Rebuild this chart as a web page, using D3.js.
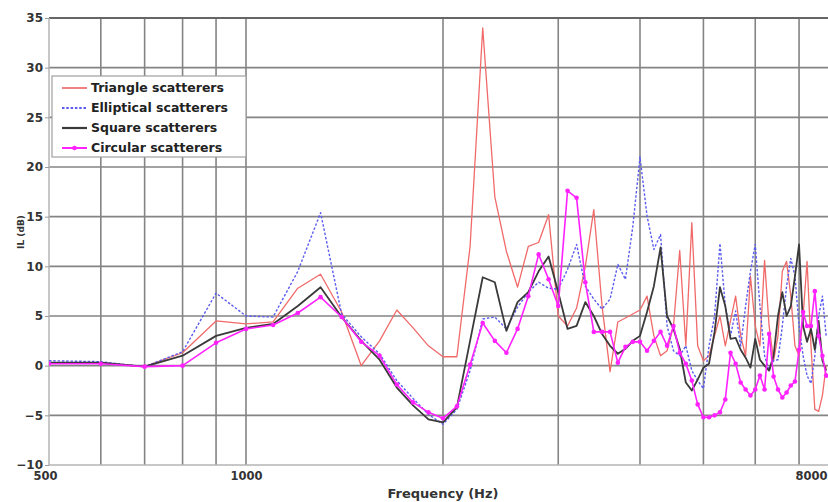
<!DOCTYPE html>
<html>
<head>
<meta charset="utf-8">
<script src="https://cdn.jsdelivr.net/npm/d3@7"></script>
<style>
  body { margin: 0; background: #fff; }
  svg { display: block; }
  text { font-family: "DejaVu Sans", Verdana, sans-serif; font-weight: bold; }
</style>
</head>
<body>
<svg id="chart" width="828" height="502"></svg>
<script>
// Frequency samples (Hz)
const freq = [500,600,700,800,900,1000,1100,1200,1300,1400,1500,1600,1700,1800,1900,2000,
  2100,2200,2300,2400,2500,2600,2700,2800,2900,3000,3100,3200,3300,3400,3500,3600,3700,3800,3900,4000,
  4100,4200,4300,4400,4500,4600,4700,4800,4900,5000,5100,5200,5300,5400,5500,5600,5700,5800,5900,6000,
  6100,6200,6300,6400,6500,6600,6700,6800,6900,7000,7100,7200,7300,7400,7500,7600,7700];

// Insertion loss (dB) for each scatterer shape
const triangle = [0.3,0.3,-0.1,1.3,4.5,4.2,4.4,7.8,9.2,5.4,0.0,2.5,5.6,3.8,2.0,0.9,
  0.9,12.0,34.0,17.0,11.5,7.9,12.0,12.4,15.2,5.0,4.0,5.8,10.0,15.7,6.0,-0.6,4.4,4.8,5.2,5.6,
  7.0,3.0,1.0,1.5,4.0,11.6,2.0,14.4,2.0,0.5,1.0,3.0,5.0,2.0,4.5,7.0,3.0,1.0,9.0,4.0,
  2.0,10.6,4.0,0.5,3.0,9.5,10.5,7.0,2.0,1.0,5.0,10.5,2.0,-4.4,-4.6,-3.0,0.0];

const elliptical = [0.5,0.4,-0.1,1.4,7.3,5.0,4.9,9.5,15.4,5.2,2.9,1.2,-1.5,-3.3,-4.9,-5.9,
  -4.4,-0.5,4.7,4.9,3.7,5.9,7.4,8.4,7.8,7.7,9.7,12.2,8.0,6.7,5.7,6.7,10.2,8.7,14.0,21.0,
  15.1,11.7,13.2,4.0,1.5,1.0,2.0,-0.5,-1.5,-2.3,2.0,5.0,12.3,6.0,3.0,5.5,2.0,6.0,9.5,12.2,
  6.0,1.0,-0.5,0.5,0.6,4.0,8.0,10.8,9.0,4.0,1.0,-1.0,-1.8,1.0,5.0,7.0,3.0];

const square = [0.3,0.3,-0.1,1.0,3.0,3.8,4.2,6.0,7.9,4.9,2.5,0.6,-2.2,-4.0,-5.4,-5.7,
  -4.2,2.5,8.9,8.4,3.5,6.4,7.4,9.5,11.0,7.4,3.7,4.0,6.4,5.0,3.2,2.0,1.2,1.7,2.5,3.0,
  5.4,8.0,11.9,5.0,3.7,1.7,-1.7,-2.5,-1.4,-0.2,0.2,3.4,7.9,6.0,2.7,2.8,1.6,0.8,-0.2,2.7,
  0.6,0.0,-0.5,1.0,5.0,7.4,5.0,6.0,9.0,12.2,4.0,2.4,3.7,1.6,4.5,0.5,-0.5];

const circular = [0.2,0.2,-0.1,0.0,2.3,3.7,4.1,5.3,6.9,4.9,2.4,1.0,-1.9,-3.7,-4.7,-5.3,
  -4.1,0.1,4.3,2.5,1.3,3.7,7.0,11.2,8.7,6.0,17.6,16.9,8.4,3.4,3.4,3.4,0.3,1.9,2.4,2.4,
  1.5,2.5,3.4,2.0,4.0,1.3,0.2,-1.5,-3.9,-5.2,-5.2,-5.0,-4.7,-3.4,1.3,0.2,-1.7,-2.4,-3.0,-2.4,
  -1.0,-2.4,3.2,-1.1,-2.4,-3.2,-2.7,-2.0,-1.6,1.6,5.4,4.0,4.0,7.5,3.0,1.0,-1.0];

const seriesNames = ["Triangle scatterers","Elliptical scatterers","Square scatterers","Circular scatterers"];
const seriesColors = ["#f06a6a","#5b5bf0","#3a3a3a","#ff22ff"];
const yTicks = [-10,-5,0,5,10,15,20,25,30,35];
const xGrid = [600,700,800,900,1000,2000,3000,4000,5000,6000,7000];
const xTickLabels = [500,1000,8000];

const W = 828;
const svg = d3.select("#chart");
const x = d3.scaleLog().domain([500, 8000]).range([49, 837]);
const y = d3.scaleLinear().domain([-10, 35]).range([465, 18]);

svg.append("defs").append("clipPath").attr("id", "plot")
  .append("rect").attr("x", 49).attr("y", 14).attr("width", 790).attr("height", 455);

// grid
const grid = svg.append("g");
grid.selectAll("line.v").data(xGrid).join("line")
  .attr("x1", d => x(d)).attr("x2", d => x(d))
  .attr("y1", y(35)).attr("y2", y(-10))
  .attr("stroke", "#848484").attr("stroke-width", 1.6);
grid.selectAll("line.h").data(yTicks.filter(d => d > -10 && d < 35)).join("line")
  .attr("x1", x(500)).attr("x2", W)
  .attr("y1", d => y(d)).attr("y2", d => y(d))
  .attr("stroke", "#848484").attr("stroke-width", 1.6);
// box edges
svg.append("line").attr("x1", x(500)).attr("x2", W).attr("y1", y(35)).attr("y2", y(35))
  .attr("stroke", "#666").attr("stroke-width", 2.2);
svg.append("line").attr("x1", x(500)).attr("x2", W).attr("y1", y(-10)).attr("y2", y(-10))
  .attr("stroke", "#b5b5b5").attr("stroke-width", 1.5);
svg.append("line").attr("x1", x(500)).attr("x2", x(500)).attr("y1", y(35)).attr("y2", y(-10))
  .attr("stroke", "#b5b5b5").attr("stroke-width", 1.5);

// y axis
const yAxis = svg.append("g").attr("transform", `translate(${x(500)},0)`)
  .call(d3.axisLeft(y).tickValues(yTicks).tickSize(4).tickPadding(2).tickFormat(d3.format("d")));
yAxis.select(".domain").remove();
yAxis.selectAll("line").attr("stroke", "#9a9a9a");
yAxis.selectAll("text").attr("font-size", 12).attr("fill", "#333");

// x axis labels; the last one is kept inside the frame
const xAxis = svg.append("g").attr("transform", `translate(0,${y(-10)})`)
  .call(d3.axisBottom(x).tickValues(xTickLabels).tickSize(0).tickPadding(7).tickFormat(d3.format("d")));
xAxis.select(".domain").remove();
xAxis.selectAll("text").attr("font-size", 11.5).attr("fill", "#333")
  .attr("text-anchor", d => d === 8000 ? "end" : "middle")
  .attr("dx", d => d === 500 ? -4 : d === 8000 ? (W - 1 - x(8000)) : 0);

svg.append("text").attr("x", 443).attr("y", 498).attr("text-anchor", "middle")
  .attr("font-size", 13).attr("fill", "#333").text("Frequency (Hz)");
svg.append("text").attr("transform", "translate(21,232) rotate(-90)").attr("text-anchor", "middle")
  .attr("dy", "0.35em").attr("font-size", 9).attr("fill", "#333").text("IL (dB)");

// series
const allSeries = [triangle, elliptical, square, circular];
const line = d3.line().x((d, i) => x(freq[i])).y(d => y(d));
const plot = svg.append("g").attr("clip-path", "url(#plot)");
const dashes = [null, "2.5,1.8", null, null];
const widths = [1.3, 1.4, 1.8, 1.6];
allSeries.forEach((s, k) => {
  plot.append("path").datum(s).attr("d", line)
    .attr("fill", "none").attr("stroke", seriesColors[k]).attr("stroke-width", widths[k])
    .attr("stroke-dasharray", dashes[k]).attr("stroke-linejoin", "round");
});
plot.selectAll("circle.m").data(circular).join("circle")
  .attr("cx", (d, i) => x(freq[i])).attr("cy", d => y(d)).attr("r", 2.3)
  .attr("fill", seriesColors[3]);

// legend
const lg = svg.append("g").attr("transform", "translate(52,76)");
lg.append("rect").attr("width", 194).attr("height", 81).attr("fill", "#fff")
  .attr("stroke", "#a0a0a0").attr("stroke-width", 1.2);
seriesNames.forEach((name, k) => {
  const yy = 12 + k * 20;
  lg.append("line").attr("x1", 10).attr("x2", 35).attr("y1", yy).attr("y2", yy)
    .attr("stroke", seriesColors[k]).attr("stroke-width", widths[k] + 0.4)
    .attr("stroke-dasharray", dashes[k]);
  if (k === 3) lg.append("circle").attr("cx", 22.5).attr("cy", yy).attr("r", 2.3).attr("fill", seriesColors[k]);
  lg.append("text").attr("x", 39).attr("y", yy).attr("dy", "0.35em")
    .attr("font-size", 12.5).attr("fill", "#222").text(name);
});
</script>
</body>
</html>
